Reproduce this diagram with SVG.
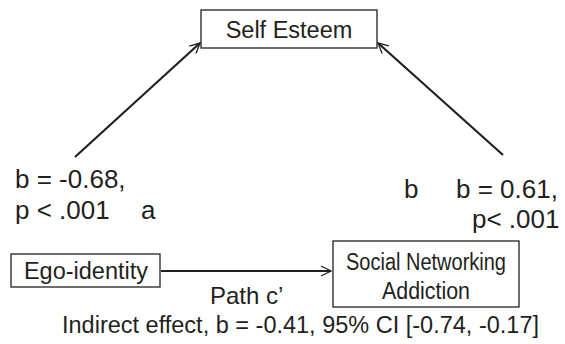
<svg xmlns="http://www.w3.org/2000/svg" width="565" height="344" viewBox="0 0 565 344">
<defs>
<style>
.box{fill:#fff;stroke:#231f20;stroke-width:1.3}
.t{font-family:"Liberation Sans",Arial,sans-serif;font-size:23.5px;fill:#231f20}
.l{font-size:26px}
.c{text-anchor:middle}
.ln{stroke:#231f20;stroke-width:2.2;fill:none;marker-end:url(#ah)}
</style>
<marker id="ah" viewBox="0 0 12 12" refX="11" refY="6" markerWidth="12" markerHeight="12" markerUnits="userSpaceOnUse" orient="auto">
<path d="M1,1 L11,6 L1,11" fill="none" stroke="#231f20" stroke-width="1.3"/>
</marker>
</defs>
<rect width="565" height="344" fill="#fff"/>
<g id="connectors">
<line class="ln" x1="75" y1="157" x2="200" y2="43"/>
<line class="ln" x1="503" y1="155" x2="378" y2="43"/>
<line class="ln" x1="161" y1="271" x2="331" y2="271"/>
</g>
<g id="self-esteem">
<rect class="box" x="201" y="10" width="176" height="38"/>
<text class="t c" x="289" y="38">Self Esteem</text>
</g>
<g id="ego-identity">
<rect class="box" x="11" y="254" width="149" height="33"/>
<text class="t c" x="86" y="279">Ego-identity</text>
</g>
<g id="sna">
<rect class="box" x="333" y="241" width="186" height="66"/>
<text class="t c" x="426" y="270" textLength="160" lengthAdjust="spacingAndGlyphs">Social Networking</text>
<text class="t c" x="426" y="299" textLength="88" lengthAdjust="spacingAndGlyphs">Addiction</text>
</g>
<g id="labels">
<text class="t l" x="15" y="188">b = -0.68,</text>
<text class="t l" x="15" y="219">p &lt; .001</text>
<text class="t l" x="141" y="219">a</text>
<text class="t l" x="404" y="198">b</text>
<text class="t l" x="456" y="198">b = 0.61,</text>
<text class="t l" x="472" y="228">p&lt; .001</text>
<text class="t" x="210" y="304" style="font-size:24px">Path c’</text>
<text class="t" x="62" y="333">Indirect effect, b = -0.41, 95% CI [-0.74, -0.17]</text>
</g>
</svg>
